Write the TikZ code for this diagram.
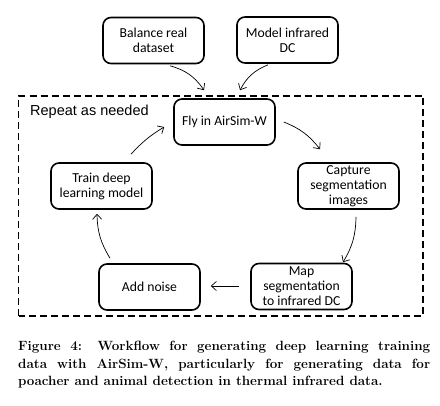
\documentclass[tikz,border=0pt]{standalone}
\usepackage{fontspec}
\newfontfamily\boxfont{Carlito}
\newfontfamily\labelfont{Liberation Sans}
\usetikzlibrary{arrows.meta}

\begin{document}
\begin{tikzpicture}[x=1pt, y=1pt,
    stepbox/.style={draw, line width=1.6pt, rounded corners=8pt, minimum width=101pt,
        minimum height=46pt, align=center, inner sep=2pt,
        font=\boxfont\fontsize{13.7}{15}\selectfont},
    flow/.style={-{Straight Barb[length=5pt,width=9pt]}, line width=0.7pt}]
    \useasboundingbox (0,0) rectangle (440,406);
    % frame of the loop
    \draw[line width=1.6pt, dash pattern=on 7pt off 4pt] (18.5,90) rectangle (423,310);
    \node[anchor=base west, inner sep=0, font=\labelfont\fontsize{14.5}{17}\selectfont] (repeat) at (30,290) {Repeat as needed};
    % steps
    \node[stepbox] (balance) at (153.5,365.5) {Balance real\\dataset};
    \node[stepbox] (model) at (287.5,366) {Model infrared\\DC};
    \node[stepbox] (fly) at (224.5,284) {Fly in AirSim-W};
    \node[stepbox] (capture) at (348.5,220) {Capture\\segmentation\\images};
    \node[stepbox] (map) at (301.5,119.5) {Map\\segmentation\\to infrared DC};
    \node[stepbox] (noise) at (149.5,119) {Add noise};
    \node[stepbox] (train) at (101.5,220) {Train deep\\learning model};
    % arrows
    \draw[flow] ([shift={(16.5,-1.5)}]balance.south) to[bend left=20] ([shift={(-20.5,8)}]fly.north);
    \draw[flow] ([shift={(-19.5,-1)}]model.south) to[bend right=20] ([shift={(15.5,8)}]fly.north);
    \draw[flow] ([shift={(8,0)}]fly.east) to[bend left=15] ([shift={(-28.5,13)}]capture.north);
    \draw[flow] ([shift={(7.5,-7)}]capture.south) to[bend left=15] ([shift={(41.5,0.5)}]map.north);
    \draw[flow] ([shift={(-11,0.5)}]map.west) -- ([shift={(10,1)}]noise.east);
    \draw[flow] ([shift={(-39.5,5)}]noise.north) to[bend left=15] ([shift={(-4.5,-4)}]train.south);
    \draw[flow] ([shift={(29.5,8)}]train.north) to[bend left=8] ([shift={(-9,-5)}]fly.west);
    % caption
    \node[anchor=north west, inner sep=0, text width=412pt, align=justify,
        font=\bfseries\fontsize{13.4}{17.5}\selectfont] (caption) at (18,65)
        {Figure 4: Workflow for generating deep learning training\linebreak
        data with AirSim-W, particularly for generating data for\linebreak
        poacher and animal detection in thermal infrared data.};
\end{tikzpicture}
\end{document}
